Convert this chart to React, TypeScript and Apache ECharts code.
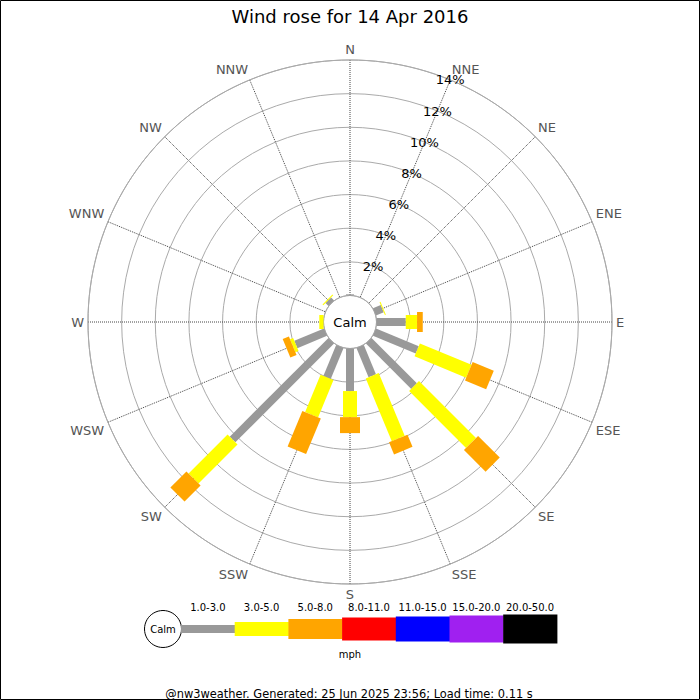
import React, { useEffect, useRef } from "react";
import * as echarts from "echarts";

const directions = ["N", "NNE", "NE", "ENE", "E", "ESE", "SE", "SSE", "S", "SSW", "SW", "WSW", "W", "WNW", "NW", "NNW"];
const speedBands = ["1.0-3.0", "3.0-5.0", "5.0-8.0", "8.0-11.0", "11.0-15.0", "15.0-20.0", "20.0-50.0"];
const bandColors = ["#999999", "#ffff00", "#ffa500", "#ff0000", "#0000ff", "#a020f0", "#000000"];
// percentage of time per direction, for each speed band (mph)
const band1to3 = [0.07, 0, 0, 0.5, 1.74, 2.75, 3.81, 1.88, 2.53, 1.99, 8.3, 1.91, 0, 0, 0.25, 0];
const band3to5 = [0, 0, 0, 0.06, 0.67, 3.32, 4.79, 4.04, 1.55, 2.4, 3.28, 0.2, 0.25, 0, 0.07, 0];
const band5to8 = [0, 0, 0, 0, 0.34, 1.36, 1.82, 0.78, 0.95, 2.29, 1.35, 0.4, 0, 0, 0, 0];
const radiusTicks = [2, 4, 6, 8, 10, 12, 14];
const titleText = "Wind rose for 14 Apr 2016";
const footerText = "@nw3weather. Generated: 25 Jun 2025 23:56; Load time: 0.11 s";

const FONT = "DejaVu Sans";
const barWidths = [8, 14, 20, 23, 25, 27, 29];

export default function App() {
  const ref = useRef<HTMLDivElement>(null);
  useEffect(() => {
    if (!ref.current) return;
    const chart = echarts.init(ref.current, null, { renderer: "svg" });
    const bands = [band1to3, band3to5, band5to8];
    const barData: any[] = [];
    directions.forEach((_, i) => {
      let cum = 0;
      bands.forEach((arr, b) => {
        const v = arr[i];
        if (v > 0) {
          barData.push([cum + v, i * 22.5, cum, b]);
        }
        cum += v;
      });
    });
    const cx = 350;
    const cy = 322;
    const legendX0 = 181;
    const legendW = 53.7;
    const legendY = 629;
    const graphics: any[] = [
      {
        type: "rect",
        shape: { x: 0.5, y: 0.5, width: 699, height: 699 },
        style: { fill: "none", stroke: "#000", lineWidth: 1 },
        silent: true,
      },
      {
        type: "text",
        x: cx,
        y: cy,
        style: { text: "Calm", fontSize: 13, fontFamily: FONT, fill: "#000", align: "center", verticalAlign: "middle" },
        z: 100,
      },
      {
        type: "circle",
        shape: { cx: 163, cy: legendY, r: 18.5 },
        style: { fill: "#fff", stroke: "#000", lineWidth: 1 },
      },
      {
        type: "text",
        x: 163,
        y: legendY,
        style: { text: "Calm", fontSize: 10, fontFamily: FONT, fill: "#000", align: "center", verticalAlign: "middle" },
      },
      {
        type: "text",
        x: 350,
        y: 654,
        style: { text: "mph", fontSize: 10, fontFamily: FONT, fill: "#000", align: "center", verticalAlign: "middle" },
      },
      {
        type: "text",
        x: 349,
        y: 694,
        style: { text: footerText, fontSize: 11.4, fontFamily: FONT, fill: "#000", align: "center", verticalAlign: "middle" },
      },
    ];
    speedBands.forEach((lab, b) => {
      const h = barWidths[b];
      graphics.push({
        type: "rect",
        shape: { x: legendX0 + b * legendW, y: legendY - h / 2, width: legendW + 0.5, height: h },
        style: { fill: bandColors[b] },
      });
      graphics.push({
        type: "text",
        x: legendX0 + b * legendW + legendW / 2,
        y: 607,
        style: { text: lab, fontSize: 10, fontFamily: FONT, fill: "#000", align: "center", verticalAlign: "middle" },
      });
    });

    chart.setOption({
      animation: false,
      backgroundColor: "#fff",
      title: {
        text: titleText,
        left: "center",
        top: 2,
        textStyle: { fontSize: 18, fontWeight: "normal", color: "#000", fontFamily: FONT },
      },
      polar: { center: [cx, cy], radius: [26.5, 262] },
      angleAxis: {
        type: "value",
        min: 0,
        max: 360,
        interval: 22.5,
        startAngle: 90,
        clockwise: true,
        axisLine: { show: true, lineStyle: { color: "#aaa", width: 1 } },
        axisTick: { show: false },
        splitLine: { show: true, lineStyle: { color: "#444", type: "dotted", width: 1 } },
        axisLabel: {
          color: "#555",
          fontSize: 13,
          fontFamily: FONT,
          margin: 4,
          formatter: (v: number) => (v >= 359 ? "" : directions[Math.round(v / 22.5)]),
        },
      },
      radiusAxis: {
        type: "value",
        min: 0,
        max: 14,
        interval: 2,
        axisLine: { show: false },
        axisTick: { show: false },
        axisLabel: { show: false },
        splitLine: { show: true, lineStyle: { color: "#aaa", width: 1 } },
      },
      series: [
        {
          type: "custom",
          coordinateSystem: "polar",
          encode: { radius: 0, angle: 1 },
          data: barData,
          renderItem: (params: any, api: any) => {
            const end = api.value(0);
            const ang = api.value(1);
            const start = api.value(2);
            const b = api.value(3);
            const p0 = api.coord([start, ang]);
            const p1 = api.coord([end, ang]);
            const cs = params.coordSys;
            const dx = p1[0] - cs.cx;
            const dy = p1[1] - cs.cy;
            const len = Math.hypot(dx, dy) || 1;
            const nx = -dy / len;
            const ny = dx / len;
            const h = barWidths[b] / 2;
            return {
              type: "polygon",
              shape: {
                points: [
                  [p0[0] + nx * h, p0[1] + ny * h],
                  [p1[0] + nx * h, p1[1] + ny * h],
                  [p1[0] - nx * h, p1[1] - ny * h],
                  [p0[0] - nx * h, p0[1] - ny * h],
                ],
              },
              style: { fill: bandColors[b] },
            };
          },
          z: 5,
        },
        {
          type: "custom",
          coordinateSystem: "polar",
          encode: { radius: 0, angle: 1 },
          data: radiusTicks.map((v) => [v, 22.5]),
          renderItem: (params: any, api: any) => {
            const p = api.coord([api.value(0), api.value(1)]);
            return {
              type: "text",
              x: p[0],
              y: p[1],
              style: {
                text: api.value(0) + "%",
                fontSize: 13,
                fontFamily: FONT,
                fill: "#000",
                align: "center",
                verticalAlign: "middle",
              },
            };
          },
          z: 6,
        },
      ],
      graphic: graphics,
    });
    return () => chart.dispose();
  }, []);
  return <div ref={ref} style={{ position: "absolute", left: 0, top: 0, width: 700, height: 700 }} />;
}
